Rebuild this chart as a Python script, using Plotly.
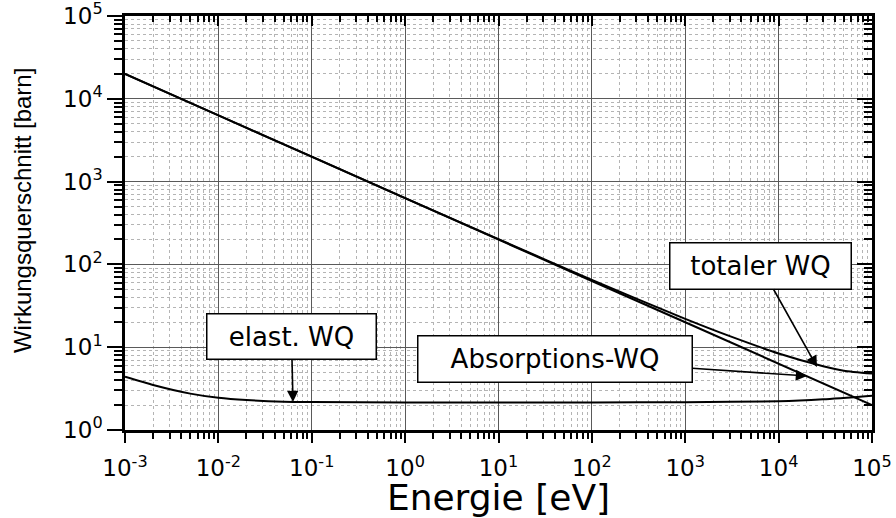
import plotly.graph_objects as go

# ---- data ----
energy_abs = [1e-3, 1e-2, 1e-1, 1e0, 1e1, 1e2, 1e3, 1e4, 1e5]
sigma_abs = [20000, 6300, 2000, 630, 200, 63, 20, 6.3, 2.0]

energy_el = [1e-3, 2e-3, 5e-3, 1e-2, 2e-2, 5e-2, 1e-1, 1e0, 1e1, 1e2, 1e3, 1e4, 3e4, 1e5]
sigma_el = [4.4, 3.5, 2.75, 2.45, 2.3, 2.2, 2.18, 2.15, 2.15, 2.15, 2.17, 2.22, 2.35, 2.6]

energy_tot = [1e-3, 1e-2, 1e-1, 1e0, 1e1, 1e2, 1e3, 3e3, 1e4, 3e4, 5e4, 1e5]
sigma_tot = [20000, 6300, 2000, 632, 202, 65, 22, 13.6, 8.4, 5.9, 5.2, 4.8]

x_tickvals = [1e-3, 1e-2, 1e-1, 1e0, 1e1, 1e2, 1e3, 1e4, 1e5]
x_ticktext = ["10<sup>-3</sup>", "10<sup>-2</sup>", "10<sup>-1</sup>", "10<sup>0</sup>",
              "10<sup>1</sup>", "10<sup>2</sup>", "10<sup>3</sup>", "10<sup>4</sup>", "10<sup>5</sup>"]
y_tickvals = [1e0, 1e1, 1e2, 1e3, 1e4, 1e5]
y_ticktext = ["10<sup>0</sup>", "10<sup>1</sup>", "10<sup>2</sup>", "10<sup>3</sup>",
              "10<sup>4</sup>", "10<sup>5</sup>"]

x_title = "Energie [eV]"
y_title = "Wirkungsquerschnitt [barn]"
labels = ["elast. WQ", "Absorptions-WQ", "totaler WQ"]

# minor tick positions (2..9 per decade)
x_minor = [m * 10 ** d for d in range(-3, 5) for m in range(2, 10)]
y_minor = [m * 10 ** d for d in range(0, 5) for m in range(2, 10)]

FONT = "DejaVu Sans"
TITLE_FONT = "Liberation Sans, Arial"

fig = go.Figure()
line = dict(color="black", width=2)
fig.add_trace(go.Scatter(x=energy_abs, y=sigma_abs, mode="lines", line=line, showlegend=False))
fig.add_trace(go.Scatter(x=energy_tot, y=sigma_tot, mode="lines",
                         line=dict(color="black", width=2, shape="spline", smoothing=0.6), showlegend=False))
fig.add_trace(go.Scatter(x=energy_el, y=sigma_el, mode="lines",
                         line=dict(color="black", width=2, shape="spline", smoothing=0.6), showlegend=False))
# dummy trace to attach mirrored tick axes
fig.add_trace(go.Scatter(x=[1e-3], y=[1e0], xaxis="x2", yaxis="y2", mode="markers",
                         marker=dict(opacity=0), showlegend=False, hoverinfo="skip"))

major_grid = "#5a5a5a"
minor_grid = "#b4b4b4"

fig.update_layout(
    width=896, height=518,
    margin=dict(l=125, r=24, t=16, b=88, autoexpand=False),
    paper_bgcolor="white", plot_bgcolor="white",
    font=dict(family=FONT, color="black"),
    xaxis=dict(
        type="log", range=[-3, 5],
        tickmode="array", tickvals=x_tickvals, ticktext=x_ticktext,
        tickfont=dict(family=FONT, size=23, color="black"),
        ticks="outside", ticklen=10, tickwidth=2, tickcolor="black",
        ticklabelstandoff=6, ticklabeloverflow="allow",
        showline=True, linecolor="black", linewidth=2.5, mirror=True,
        showgrid=True, gridcolor=major_grid, gridwidth=1,
        minor=dict(tickmode="array", tickvals=x_minor, ticks="outside", ticklen=6,
                   tickwidth=2, tickcolor="black",
                   showgrid=True, gridcolor=minor_grid, griddash="dot", gridwidth=1),
        zeroline=False,
        title=dict(text=x_title, font=dict(family=FONT, size=36, color="black"), standoff=13),
    ),
    yaxis=dict(
        type="log", range=[0, 5],
        tickmode="array", tickvals=y_tickvals, ticktext=y_ticktext,
        tickfont=dict(family=FONT, size=23, color="black"),
        ticks="outside", ticklen=15, tickwidth=2, tickcolor="black",
        ticklabelstandoff=0, ticklabeloverflow="allow",
        showline=True, linecolor="black", linewidth=2.5, mirror=True,
        showgrid=True, gridcolor=major_grid, gridwidth=1,
        minor=dict(tickmode="array", tickvals=y_minor, ticks="outside", ticklen=8,
                   tickwidth=2, tickcolor="black",
                   showgrid=True, gridcolor=minor_grid, griddash="dot", gridwidth=1),
        zeroline=False,
    ),
    xaxis2=dict(
        type="log", range=[-3, 5], overlaying="x", side="top", anchor="y",
        tickmode="array", tickvals=x_tickvals, showticklabels=False,
        ticks="inside", ticklen=10, tickwidth=2, tickcolor="black",
        showgrid=False, zeroline=False, showline=False,
        minor=dict(tickmode="array", tickvals=x_minor, ticks="inside", ticklen=6,
                   tickwidth=2, tickcolor="black", showgrid=False),
    ),
    yaxis2=dict(
        type="log", range=[0, 5], overlaying="y", side="right", anchor="x",
        tickmode="array", tickvals=y_tickvals, showticklabels=False,
        ticks="inside", ticklen=15, tickwidth=2, tickcolor="black",
        showgrid=False, zeroline=False, showline=False,
        minor=dict(tickmode="array", tickvals=y_minor, ticks="inside", ticklen=8,
                   tickwidth=2, tickcolor="black", showgrid=False),
    ),
)

# y-axis title as a rotated annotation (sits slightly above the axis centre)
fig.add_annotation(text=y_title, textangle=-90, xref="paper", yref="paper",
                   x=-0.138, y=0.531, xanchor="center", yanchor="middle", showarrow=False,
                   font=dict(family=TITLE_FONT, size=24, color="black"))

box = dict(showarrow=True, arrowhead=2, arrowsize=1.4, arrowwidth=1.6, arrowcolor="black",
           bgcolor="white", bordercolor="black", borderwidth=1.5, borderpad=0,
           font=dict(family=FONT, size=26, color="black"), xref="x", yref="y",
           axref="pixel", ayref="pixel")

# (tip in log10 data coords, box offset in px, box size)
fig.add_annotation(text=labels[0], x=-1.201, y=0.338, ax=-1.5, ay=-65.5,
                   width=168, height=44, **box)
fig.add_annotation(text=labels[1], x=4.304, y=0.652, ax=-252, ay=-17,
                   width=273, height=45, **box)
fig.add_annotation(text=labels[2], x=4.411, y=0.761, ax=-56.5, ay=-101,
                   width=180, height=45, **box)

fig.write_html("out.html", config={"displayModeBar": False},
               post_script="document.body.style.margin='0';")
